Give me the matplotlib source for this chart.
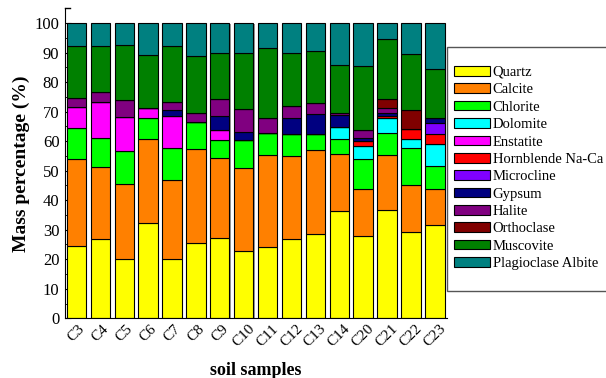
import matplotlib
matplotlib.use('Agg')
import matplotlib.pyplot as plt
from matplotlib.patches import Rectangle
import numpy as np

plt.rcParams['font.family'] = ['Liberation Serif', 'DejaVu Serif']

samples = ['C3', 'C4', 'C5', 'C6', 'C7', 'C8', 'C9', 'C10', 'C11', 'C12',
           'C13', 'C14', 'C20', 'C21', 'C22', 'C23']

quartz = [24.6, 26.9, 20.0, 32.3, 20.2, 25.6, 27.3, 22.7, 24.1, 27.0, 28.5, 36.2, 27.9, 36.6, 29.2, 31.5]
calcite = [29.3, 24.5, 25.5, 28.4, 26.8, 31.8, 26.9, 28.1, 31.2, 27.9, 28.4, 19.4, 15.8, 18.8, 16.0, 12.2]
chlorite = [10.7, 9.8, 11.1, 7.1, 10.6, 9.2, 6.1, 9.5, 7.4, 7.6, 5.5, 5.0, 10.2, 7.3, 12.5, 7.9]
dolomite = [0, 0, 0, 0, 0, 0, 0, 0, 0, 0, 0, 4.1, 4.3, 5.3, 3.1, 7.5]
enstatite = [7.1, 11.9, 11.5, 3.6, 10.8, 0, 3.4, 0, 0, 0, 0, 0, 0, 0, 0, 0]
hornblende = [0, 0, 0, 0, 0, 0, 0, 0, 0, 0, 0, 0, 1.7, 0.6, 3.3, 3.4]
microcline = [0, 0, 0, 0, 0, 0, 0, 0, 0, 0, 0, 0, 0, 0, 0, 3.6]
gypsum = [0, 0, 0, 0, 2.0, 0, 4.8, 2.8, 0, 5.3, 6.9, 4.2, 1.1, 1.1, 0, 1.9]
halite = [2.8, 3.5, 5.8, 0, 2.9, 2.9, 5.7, 7.7, 5.3, 4.0, 3.7, 0.6, 2.7, 1.7, 0, 0]
orthoclase = [0, 0, 0, 0, 0, 0, 0, 0, 0, 0, 0, 0, 0, 2.8, 6.4, 0]
muscovite = [17.9, 15.5, 18.8, 17.9, 18.8, 19.5, 15.7, 19.1, 23.5, 18.0, 17.6, 16.3, 21.7, 20.4, 19.0, 16.4]
plagioclase = [7.6, 7.9, 7.3, 10.7, 7.9, 11.0, 10.1, 10.1, 8.5, 10.2, 9.4, 14.2, 14.6, 5.4, 10.5, 15.6]

minerals = ['Quartz', 'Calcite', 'Chlorite', 'Dolomite', 'Enstatite', 'Hornblende Na-Ca',
            'Microcline', 'Gypsum', 'Halite', 'Orthoclase', 'Muscovite', 'Plagioclase Albite']
series = [quartz, calcite, chlorite, dolomite, enstatite, hornblende,
          microcline, gypsum, halite, orthoclase, muscovite, plagioclase]
colors = ['#FFFF00', '#FF8000', '#00FF00', '#00FFFF', '#FF00FF', '#FF0000',
          '#8000FF', '#000080', '#800080', '#800000', '#008000', '#008080']

fig = plt.figure(figsize=(6.06, 3.78), dpi=100)
ax = fig.add_axes([0.1073, 0.158, 0.630, 0.820])

x = np.arange(len(samples))
w = 0.81

# grey drop shadow behind each bar
totals = np.sum(series, axis=0)
ax.bar(x + 0.05, totals, w, bottom=-0.3, color='#999999', zorder=1)

bottom = np.zeros(len(samples))
handles = []
for name, vals, c in zip(minerals, series, colors):
    vals = np.array(vals)
    b = ax.bar(x, vals, w, bottom=bottom, color=c, edgecolor='black',
               linewidth=0.8, label=name, zorder=2)
    handles.append(b)
    bottom += vals

ax.set_xlim(-0.476, 15.5)
ax.set_ylim(0, 105)
ax.set_yticks(np.arange(0, 101, 10))
ax.set_yticks(np.arange(0, 101, 5), minor=True)
ax.tick_params(axis='y', which='both', direction='in', labelsize=12, pad=4)
ax.tick_params(axis='y', which='major', length=4)
ax.tick_params(axis='y', which='minor', length=2.5)
ax.set_xticks(x)
ax.set_xticklabels(samples, rotation=45, ha='center', fontsize=11)
ax.tick_params(axis='x', length=0, pad=3)

ax.spines['right'].set_visible(False)
ax.spines['top'].set_visible(False)
ax.plot([0, 0.012], [1, 1], transform=ax.transAxes, color='black', lw=1, clip_on=False)

ax.set_ylabel('Mass percentage (%)', fontsize=14, fontweight='bold', labelpad=3)
ax.set_xlabel('soil samples', fontsize=13, fontweight='bold', labelpad=9)

# legend box, runs off the right edge like the original
fig.patches.append(Rectangle((447 / 606, 1 - 291 / 378), 0.4, 244 / 378,
                             transform=fig.transFigure, facecolor='white',
                             edgecolor='#555555', linewidth=1.0, zorder=0))

leg = fig.legend(handles=handles, loc='upper left', bbox_to_anchor=(454 / 606, 1 - 66 / 378),
                 fontsize=10.5, frameon=False,
                 handlelength=2.5, handleheight=0.65, handletextpad=0.15,
                 labelspacing=0.3, borderpad=0, borderaxespad=0)

fig.savefig('out.png', dpi=100)
